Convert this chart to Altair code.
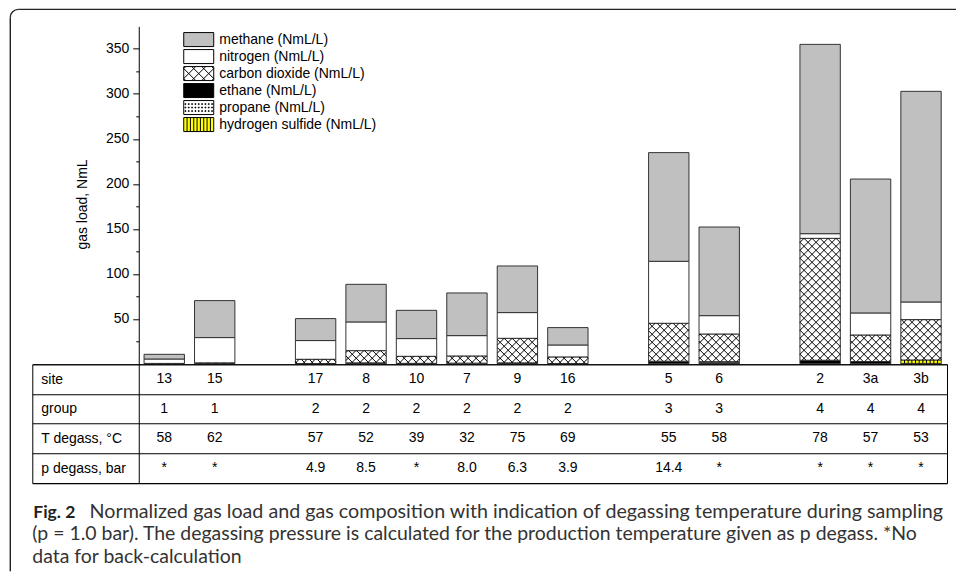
import math
import altair as alt
import pandas as pd

# ---------------- data ----------------
sites = ["13", "15", "17", "8", "10", "7", "9", "16", "5", "6", "2", "3a", "3b"]
slots = [0, 1, 3, 4, 5, 6, 7, 8, 10, 11, 13, 14, 15]
groups = ["1", "1", "2", "2", "2", "2", "2", "2", "3", "3", "4", "4", "4"]
t_degass = ["58", "62", "57", "52", "39", "32", "75", "69", "55", "58", "78", "57", "53"]
p_degass = ["*", "*", "4.9", "8.5", "*", "8.0", "6.3", "3.9", "14.4", "*", "*", "*", "*"]

ethane = [0.0, 0.5, 0.3, 1.0, 0.5, 0.7, 1.0, 0.3, 2.8, 1.8, 3.9, 2.5, 0.4]
propane = [0.0, 0.0, 0.0, 0.0, 0.0, 0.0, 0.0, 0.0, 0.0, 0.5, 0.0, 0.0, 0.0]
h2s = [0.0, 0.0, 0.0, 0.0, 0.0, 0.0, 0.0, 0.0, 0.0, 0.0, 0.0, 0.0, 3.8]
co2 = [0.4, 0.5, 4.7, 13.6, 7.8, 8.0, 27.3, 7.3, 42.2, 30.8, 135.5, 29.5, 44.9]
nitrogen = [4.9, 28.1, 20.8, 31.9, 19.7, 22.6, 28.6, 13.3, 68.9, 20.4, 5.2, 24.5, 19.6]
methane = [5.2, 41.1, 24.4, 41.8, 31.4, 47.4, 51.8, 19.3, 120.8, 98.5, 210.4, 148.8, 234.1]

gases = ["methane (NmL/L)", "nitrogen (NmL/L)", "carbon dioxide (NmL/L)",
         "ethane (NmL/L)", "propane (NmL/L)", "hydrogen sulfide (NmL/L)"]
gas_colors = ["#c0c0c0", "#ffffff", "#ffffff", "#000000", "#ffffff", "#ffff00"]

row_labels = ["site", "group", "T degass, °C", "p degass, bar"]

caption_bold = "Fig. 2"
caption_lines = [
    "Normalized gas load and gas composition with indication of degassing temperature during sampling",
    "(p = 1.0 bar). The degassing pressure is calculated for the production temperature given as p degass. *No",
    "data for back-calculation",
]

# ---------------- layout constants ----------------
W = 915
H_TOP = 337.5
H_TAB = 118.8
H_CAP = 45
D0, D1 = -2.6156, 15.515
YMAX = 375
HALF = 0.4
FONT = "Liberation Sans"
CAPFONT = "Lato"

CO2 = gases[2]
H2S = gases[5]

stack_order = [(gases[3], ethane), (gases[4], propane), (gases[5], h2s),
               (gases[2], co2), (gases[1], nitrogen), (gases[0], methane)]

rows = []
for i, site in enumerate(sites):
    base = 0.0
    for gas, vals in stack_order:
        v = vals[i]
        if v > 0:
            rows.append(dict(site=site, slot=slots[i], gas=gas, y0=base, y1=base + v,
                             xl=slots[i] - HALF, xr=slots[i] + HALF))
            base += v
seg = pd.DataFrame(rows)


def px(s):
    return (s - D0) / (D1 - D0) * W


def py(v):
    return H_TOP - v / YMAX * H_TOP


def ds(p):
    return D0 + p / W * (D1 - D0)


def dv(p):
    return (H_TOP - p) / H_TOP * YMAX


def cross_lines(xL, xR, yT, yB, sp):
    out = []
    for k in range(math.floor((yT - xR) / sp) - 1, math.ceil((yB - xL) / sp) + 2):
        c = k * sp
        xs, xe = max(xL, yT - c), min(xR, yB - c)
        if xe - xs > 0.2:
            out.append((xs, xs + c, xe, xe + c))
    for k in range(math.floor((yT + xL) / sp) - 1, math.ceil((yB + xR) / sp) + 2):
        c = k * sp
        xs, xe = max(xL, c - yB), min(xR, c - yT)
        if xe - xs > 0.2:
            out.append((xs, c - xs, xe, c - xe))
    return out


# hatch lines for carbon dioxide segments (derived from the segments above)
hatch = []
for r in seg[seg.gas == CO2].itertuples():
    for (x1, y1, x2, y2) in cross_lines(px(r.xl), px(r.xr), py(r.y1), py(r.y0), 8.0):
        hatch.append(dict(a=ds(x1), b=ds(x2), c=dv(y1), d=dv(y2)))
hatch = pd.DataFrame(hatch)

stripes = []
for r in seg[seg.gas == H2S].itertuples():
    xL, xR = px(r.xl), px(r.xr)
    n = int((xR - xL) / 4.0)
    for k in range(1, n + 1):
        xx = xL + k * (xR - xL) / (n + 1)
        stripes.append(dict(a=ds(xx), c=r.y0, d=r.y1))
stripes = pd.DataFrame(stripes)

# legend symbol paths (unit = 7 px, box 30 x 14 px)
U = 7.0
hx, hy = 15 / U, 7 / U


def f(v):
    return f"{v:.3f}"


box = f"M{f(-hx)},{f(-hy)}H{f(hx)}V{f(hy)}H{f(-hx)}Z"
p_co2 = box + "".join(f"M{f(a)},{f(b)}L{f(c)},{f(d)}" for a, b, c, d in cross_lines(-hx, hx, -hy, hy, 10 / U))
dots = ""
for yy in [-0.5, 0.0, 0.5]:
    for j in range(9):
        xx = -hx + (j + 0.5) * (2 * hx / 9)
        dots += f"M{f(xx - 0.06)},{f(yy - 0.06)}h0.12v0.12h-0.12Z"
p_prop = box + dots
p_h2s = box + "".join(f"M{f(-hx + k * 2 * hx / 9)},{f(-hy)}V{f(hy)}" for k in range(1, 9))
shape_paths = [box, box, p_co2, box, p_prop, p_h2s]

# ---------------- charts ----------------
xscale = alt.Scale(domain=[D0, D1], nice=False, zero=False)
yscale = alt.Scale(domain=[0, YMAX], nice=False, zero=True)

yaxis = alt.Axis(
    values=list(range(25, 351, 25)),
    labelExpr="datum.value % 50 == 0 ? datum.label : ''",
    tickSize={"condition": {"test": "datum.value % 50 == 0", "value": 6}, "value": 3},
    offset=-106.5, grid=False, domainColor="black", tickColor="black",
    labelFont=FONT, labelFontSize=14, labelColor="black", labelPadding=4,
    labelOverlap=False, labelFlush=False,
    title="gas load, NmL", titleFont=FONT, titleFontSize=14, titleFontWeight="normal",
    titleColor="black", titleAngle=270, titleAlign="center", titleBaseline="middle",
    titleX=-56, titleY=177.7,
)

bar_scale = alt.Scale(domain=gases, range=gas_colors)
fill_scale = alt.Scale(domain=gases, range=gas_colors)

bars = alt.Chart(seg).mark_bar(stroke="#333333", strokeWidth=1, opacity=1).encode(
    x=alt.X("xl:Q", scale=xscale, axis=None),
    x2="xr:Q",
    y=alt.Y("y0:Q", scale=yscale, axis=yaxis),
    y2="y1:Q",
    color=alt.Color("gas:N", scale=bar_scale, legend=None),
)

hatch_layer = alt.Chart(hatch).mark_rule(color="#000000", strokeWidth=1).encode(
    x=alt.X("a:Q", scale=xscale, axis=None), x2="b:Q",
    y=alt.Y("c:Q", scale=yscale, axis=yaxis), y2="d:Q",
)

stripe_layer = alt.Chart(stripes).mark_rule(color="#000000", strokeWidth=1).encode(
    x=alt.X("a:Q", scale=xscale, axis=None),
    y=alt.Y("c:Q", scale=yscale, axis=yaxis), y2="d:Q",
)

leg = alt.Legend(
    title=None, orient="none", legendX=159, legendY=5.7, padding=0,
    symbolSize=196, symbolStrokeColor="black", symbolStrokeWidth=1, symbolOpacity=1,
    symbolFillColor="white",
    labelFont=FONT, labelFontSize=14, labelColor="black", labelOffset=13,
    rowPadding=-2,
)

legend_pts = alt.Chart(seg).mark_point(filled=True, opacity=0, stroke="black", strokeWidth=1).encode(
    x=alt.X("slot:Q", scale=xscale, axis=None),
    y=alt.Y("y1:Q", scale=yscale, axis=yaxis),
    fill=alt.Fill("gas:N", scale=fill_scale, legend=leg),
    shape=alt.Shape("gas:N", scale=alt.Scale(domain=gases, range=shape_paths), legend=leg),
)

frame_df = pd.DataFrame({"k": [0]})
frame_top = alt.Chart(frame_df).mark_rule(color="#222222", strokeWidth=1.4).encode(
    x=alt.value(-14), x2=alt.value(924), y=alt.value(-17))
frame_left = alt.Chart(frame_df).mark_rule(color="#222222", strokeWidth=1.4).encode(
    x=alt.value(-22), y=alt.value(-9), y2=alt.value(545))
frame_corner = alt.Chart(frame_df).mark_point(
    shape="M-1,0A1,1 0 0 1 0,-1", size=256, filled=False, stroke="#222222", strokeWidth=1.4, opacity=1
).encode(x=alt.value(-14), y=alt.value(-9))

top = alt.layer(frame_top, frame_left, frame_corner, bars, hatch_layer, stripe_layer, legend_pts).resolve_scale(
    fill="independent", shape="independent").properties(width=W, height=H_TOP)

# table
tab = []
for i in range(len(sites)):
    for lab, vals in zip(row_labels, [sites, groups, t_degass, p_degass]):
        tab.append(dict(slot=slots[i], row=lab, value=vals[i]))
tab = pd.DataFrame(tab)

table = alt.Chart(tab, view=alt.ViewBackground(stroke="black", strokeWidth=1)).mark_text(
    font=FONT, fontSize=14, color="black", baseline="middle"
).encode(
    x=alt.X("slot:Q", scale=xscale, axis=None),
    y=alt.Y("row:N", sort=row_labels,
            scale=alt.Scale(type="band", domain=row_labels, paddingInner=0, paddingOuter=0),
            axis=alt.Axis(title=None, offset=-106.5, labelAlign="left", labelPadding=98,
                          ticks=False, domain=True, domainColor="black", grid=True,
                          gridColor="black", gridOpacity=1, tickBand="extent",
                          labelFont=FONT, labelFontSize=14, labelColor="black",
                          labelBaseline="middle")),
    text="value:N",
).properties(width=W, height=H_TAB)

# caption
cap = pd.DataFrame({"line": [0, 1, 2], "text": caption_lines})
cap_y = alt.Y("line:O", axis=None, scale=alt.Scale(type="point", padding=0))
cap_bold = alt.Chart(cap[cap.line == 0].assign(text=caption_bold)).mark_text(
    font=CAPFONT, fontSize=17.5, fontWeight="bold", color="#231f20", align="left",
    baseline="alphabetic", dy=34.7).encode(x=alt.value(1), y=cap_y, text="text:N")
cap_first = alt.Chart(cap[cap.line == 0]).mark_text(
    font=CAPFONT, fontSize=19.7, color="#333333", align="left",
    baseline="alphabetic", dy=34.7).encode(x=alt.value(57.3), y=cap_y, text="text:N")
cap_rest = alt.Chart(cap[cap.line > 0]).mark_text(
    font=CAPFONT, fontSize=19.45, color="#333333", align="left",
    baseline="alphabetic", dy=34.7).encode(x=alt.value(0), y=cap_y, text="text:N")
caption = alt.layer(cap_bold, cap_first, cap_rest).properties(width=W, height=H_CAP)

chart = alt.vconcat(top, table, caption, spacing=0, bounds="flush").properties(
    padding={"left": 6.3, "top": 5.3, "right": 0, "bottom": 0}
).configure(font=FONT, view=alt.ViewConfig(stroke="transparent"))

chart.save("out.html", embed_options={"renderer": "svg", "actions": False})
